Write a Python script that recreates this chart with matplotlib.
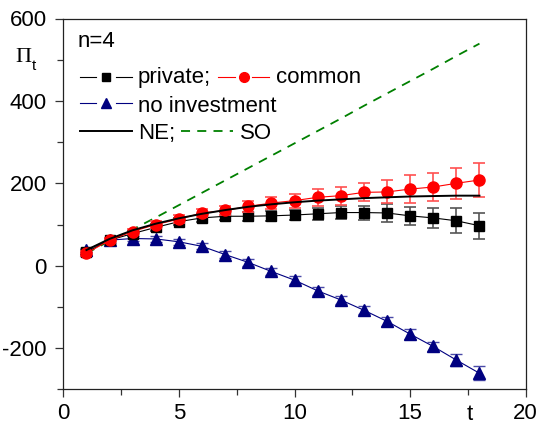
import matplotlib
matplotlib.use("Agg")
import matplotlib.pyplot as plt
from matplotlib.lines import Line2D
from matplotlib.ticker import MultipleLocator

plt.rcParams['font.family'] = ['Liberation Sans', 'DejaVu Sans']
plt.rcParams['axes.unicode_minus'] = False

t = list(range(1, 19))
private = [33, 62, 78, 93, 107, 116, 120, 120, 121, 123, 126, 129, 129, 128, 121, 116, 109, 97]
private_err = [6, 6, 7, 8, 8, 9, 10, 11, 12, 13, 15, 16, 17, 21, 22, 25, 30, 32]
common = [30, 62, 83, 100, 113, 128, 134, 144, 152, 158, 166, 170, 178, 179, 186, 191, 200, 208]
common_err = [6, 6, 7, 8, 9, 10, 11, 13, 15, 17, 21, 22, 22, 28, 33, 35, 38, 41]
noinv = [39, 62, 66, 65, 58, 47, 27, 8, -14, -35, -61, -83, -108, -135, -166, -196, -229, -261]
noinv_err = [5, 6, 6, 7, 7, 7, 8, 8, 8, 9, 9, 9, 10, 11, 12, 12, 14, 17]
ne = [38, 65, 86, 102, 115, 126, 135, 143, 149, 154, 158, 161, 164, 166, 168, 169, 170, 170]
so = [30, 60, 88, 117, 147, 177, 207, 237, 267, 297, 327, 357, 388, 418, 448, 478, 509, 539]

W, H = 539, 426
fig = plt.figure(figsize=(W / 100, H / 100), dpi=100)
ax = fig.add_axes([63.3 / W, 1 - 389.3 / H, (525.7 - 63.3) / W, (389.3 - 18.5) / H])

RED = '#ff0000'
BLUE = '#000080'
GREEN = '#008000'

ax.plot(t, so, color=GREEN, lw=1.3, dashes=(5, 4), zorder=2)
ax.errorbar(t, noinv, yerr=noinv_err, color=BLUE, lw=0.8, marker='^', ms=8,
            ecolor='#4a4aa8', elinewidth=1, capsize=4, capthick=1, zorder=3)
ax.errorbar(t, private, yerr=private_err, color='black', lw=0.8, marker='s', ms=7,
            ecolor='#555555', elinewidth=1.2, capsize=4, capthick=1.2, zorder=3)
ax.errorbar(t, common, yerr=common_err, color=RED, lw=0.8, marker='o', ms=8,
            ecolor='#ff5050', elinewidth=1.2, capsize=4, capthick=1.2, zorder=4)
ax.plot(t, ne, color='black', lw=1.4, zorder=5)

ax.set_xlim(0, 20)
ax.set_ylim(-300, 600)
ax.xaxis.set_major_locator(MultipleLocator(5))
ax.xaxis.set_minor_locator(MultipleLocator(2.5))
ax.yaxis.set_major_locator(MultipleLocator(200))
ax.yaxis.set_minor_locator(MultipleLocator(100))
ax.tick_params(which='both', direction='out', top=False, right=False, labelsize=16,
               width=0.9, color='#333333')
ax.tick_params(which='major', length=6)
ax.tick_params(axis='y', which='major', pad=6)
ax.tick_params(axis='x', which='major', pad=4)
ax.tick_params(which='minor', length=4)
for s in ax.spines.values():
    s.set_linewidth(0.9)
    s.set_color('#222222')


def px(x, y):
    return (x / W, 1 - y / H)


# axis labels
fig.text(*px(470, 415), 't', fontsize=16, ha='center', va='center')
fig.text(*px(23, 57), 'Π', fontsize=16, ha='center', va='center', family='Liberation Serif')
fig.text(*px(34, 66), 't', fontsize=11, ha='center', va='center')

# annotation
fig.text(*px(78, 46.7), 'n=4', fontsize=16, ha='left', va='baseline')


def seg(x0, x1, y, **kw):
    fig.add_artist(Line2D([x0 / W, x1 / W], [1 - y / H, 1 - y / H], transform=fig.transFigure, **kw))


def mark(x, y, **kw):
    fig.add_artist(Line2D([x / W], [1 - y / H], transform=fig.transFigure, lw=0, **kw))


# legend row 1
y1 = 76.7
seg(80, 96, y1, color='black', lw=0.8)
seg(116, 132, y1, color='black', lw=0.8)
mark(106, y1, marker='s', ms=6, color='black')
fig.text(*px(138, 83.3), 'private;', fontsize=16, va='baseline')
seg(218, 235, y1, color=RED, lw=0.8)
seg(252, 269, y1, color=RED, lw=0.8)
mark(243.5, y1, marker='o', ms=7, color=RED)
fig.text(*px(276, 83.3), 'common', fontsize=16, va='baseline')

# legend row 2
y2 = 103.3
seg(80, 96, y2, color=BLUE, lw=0.8)
seg(116, 132, y2, color=BLUE, lw=0.8)
mark(106, y2, marker='^', ms=7, color=BLUE)
fig.text(*px(138, 111.7), 'no investment', fontsize=16, va='baseline')

# legend row 3
y3 = 131
seg(80, 132, y3, color='black', lw=1.4)
fig.text(*px(138, 139.3), 'NE;', fontsize=16, va='baseline')
seg(181, 233, y3, color=GREEN, lw=1.3, dashes=(5, 4))
fig.text(*px(240, 139.3), 'SO', fontsize=16, va='baseline')

fig.savefig('out.png', dpi=100)
